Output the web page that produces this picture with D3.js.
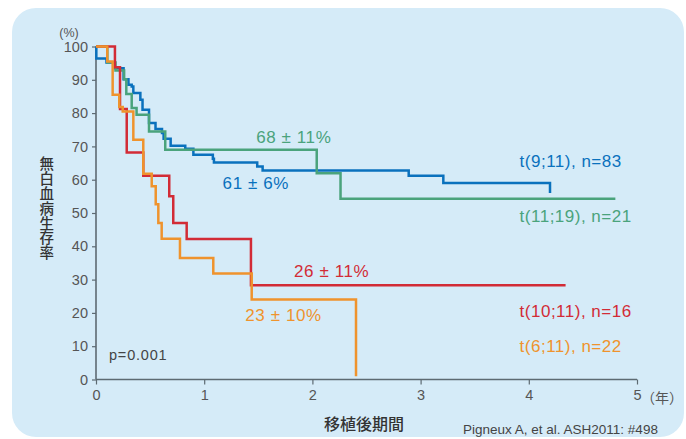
<!DOCTYPE html>
<html>
<head>
<meta charset="utf-8">
<script src="https://cdn.jsdelivr.net/npm/d3@7"></script>
<style>
  html, body { margin: 0; padding: 0; background: #ffffff; }
  svg { display: block; }
</style>
</head>
<body>
<div id="chart"></div>
<script>
// Kaplan–Meier leukemia-free survival by MLL translocation partner
const yearTicks = [0, 1, 2, 3, 4, 5];
const pctTicks = [0, 10, 20, 30, 40, 50, 60, 70, 80, 90, 100];
const yTitle = "無白血病生存率";
const xTitle = "移植後期間";
const unitX = "（年）";
const unitY = "(%)";
const pValue = "p=0.001";
const source = "Pigneux A, et al. ASH2011: #498";

// [years, survival %] — step changes
const t911 = [[0,100],[0.003,96.4],[0.097,95.2],[0.175,93.5],[0.255,90.2],[0.30,88.5],[0.33,88.0],[0.345,86.0],[0.41,84.0],[0.43,81.0],[0.49,77.0],[0.55,75.2],[0.61,74.0],[0.625,72.3],[0.69,70.2],[0.825,69.3],[0.90,67.5],[1.08,66.3],[1.09,65.2],[1.49,64.0],[1.54,62.8],[2.89,61.2],[3.21,59.0],[4.196,56.0]];
const t1119 = [[0,100],[0.105,95.2],[0.18,92.8],[0.26,90.2],[0.28,85.7],[0.33,81.5],[0.375,79.5],[0.49,74.5],[0.64,69.0],[2.04,61.9],[2.26,54.3],[4.80,54.3]];
const t1011 = [[0,100],[0.175,93.8],[0.222,81.2],[0.284,68.2],[0.437,61.2],[0.677,55.0],[0.714,47.0],[0.838,42.2],[1.432,28.3],[4.34,28.3]];
const t611 = [[0,100],[0.104,95.5],[0.154,85.5],[0.215,81.8],[0.247,80.5],[0.345,72.0],[0.437,61.8],[0.515,58.0],[0.552,52.6],[0.576,47.0],[0.607,42.3],[0.776,36.5],[1.084,31.8],[1.439,24.0],[2.403,1.0]];

const seriesNames = ["t(9;11), n=83", "t(11;19), n=21", "t(10;11), n=16", "t(6;11), n=22"];
const rateLabels = ["61 ± 6%", "68 ± 11%", "26 ± 11%", "23 ± 10%"];
const colors = ["#0a71bd", "#4aa37c", "#d22b36", "#ef932d"];

const W = 686, H = 439;
const latin = "'Liberation Sans', Arial, Helvetica, sans-serif";
const cjk = "'Noto Sans CJK JP', 'Noto Sans CJK SC', sans-serif";

const svg = d3.select("#chart").append("svg").attr("width", W).attr("height", H);

// panel
svg.append("rect").attr("x", 12).attr("y", 8).attr("width", 672).attr("height", 429)
  .attr("rx", 24).attr("ry", 24).attr("fill", "#d5ebf8");

const x = d3.scaleLinear().domain([0, 5]).range([96, 637]);
const y = d3.scaleLinear().domain([0, 100]).range([379.5, 46.5]);

const axisColor = "#5d6a72";

// y axis
const yAxis = svg.append("g").attr("transform", `translate(${x(0)},0)`)
  .call(d3.axisLeft(y).tickValues(pctTicks).tickFormat(d3.format("d")).tickSize(4).tickPadding(4));
// x axis
const xAxis = svg.append("g").attr("transform", `translate(0,${y(0)})`)
  .call(d3.axisBottom(x).tickValues(yearTicks).tickFormat(d3.format("d")).tickSize(5).tickPadding(5));

[yAxis, xAxis].forEach(g => {
  g.select(".domain").attr("stroke", axisColor).attr("stroke-width", 1.6);
  g.selectAll(".tick line").attr("stroke", axisColor).attr("stroke-width", 1.2);
  g.selectAll(".tick text").attr("fill", "#555").style("font-family", latin).style("font-size", "14.5px");
});
yAxis.select(".domain").attr("d", `M0,${y(100)}V${y(0)}`);
xAxis.select(".domain").attr("d", `M${x(0)},0H${x(5)}`);

// survival curves
const line = d3.line().x(d => x(d[0])).y(d => y(d[1])).curve(d3.curveStepAfter);
const curves = [t911, t1119, t1011, t611];
curves.forEach((c, i) => {
  svg.append("path").datum(c).attr("d", line)
    .attr("fill", "none").attr("stroke", colors[i]).attr("stroke-width", 2.5)
    .attr("stroke-linejoin", "miter").attr("stroke-linecap", "butt");
});

// survival estimates on the curves
const rateTextPos = [[1.17, 59.0], [1.48, 72.6], [1.83, 32.5], [1.38, 19.2]];
rateLabels.forEach((t, i) => {
  svg.append("text").attr("x", x(rateTextPos[i][0])).attr("y", y(rateTextPos[i][1]))
    .attr("fill", colors[i]).attr("dominant-baseline", "central")
    .style("font-family", latin).style("font-size", "17px").style("letter-spacing", "0.6px")
    .text(t);
});

// series names at the right
const namePos = [[3.915, 65.5], [3.915, 49.0], [3.915, 20.4], [3.915, 10.0]];
seriesNames.forEach((t, i) => {
  svg.append("text").attr("x", x(namePos[i][0])).attr("y", y(namePos[i][1]))
    .attr("fill", colors[i]).attr("dominant-baseline", "central")
    .style("font-family", latin).style("font-size", "17px").style("letter-spacing", "0.5px")
    .text(t);
});

// axis unit labels
svg.append("text").attr("x", 69).attr("y", 33).attr("text-anchor", "middle")
  .attr("dominant-baseline", "central").attr("fill", "#555")
  .style("font-family", latin).style("font-size", "12.5px").text(unitY);
svg.append("text").attr("x", 641).attr("y", 397).attr("dominant-baseline", "central")
  .attr("fill", "#555").style("font-family", cjk).style("font-size", "14px").text(unitX);

// axis titles
svg.append("text").attr("x", 46.7).attr("y", 156.7)
  .style("writing-mode", "vertical-rl").style("text-orientation", "upright")
  .attr("fill", "#333").style("font-family", cjk).style("font-size", "14.5px")
  .style("font-weight", "500").style("letter-spacing", "0.3px").text(yTitle);
svg.append("text").attr("x", 364).attr("y", 422.5).attr("text-anchor", "middle")
  .attr("dominant-baseline", "central").attr("fill", "#333")
  .style("font-family", cjk).style("font-size", "16px").style("font-weight", "500")
  .text(xTitle);

// p value and source
svg.append("text").attr("x", 109).attr("y", 355).attr("dominant-baseline", "central")
  .attr("fill", "#444").style("font-family", latin).style("font-size", "14.5px")
  .style("letter-spacing", "0.8px").text(pValue);
svg.append("text").attr("x", 463).attr("y", 429).attr("dominant-baseline", "central")
  .attr("fill", "#444").style("font-family", latin).style("font-size", "13.5px").text(source);
</script>
</body>
</html>
